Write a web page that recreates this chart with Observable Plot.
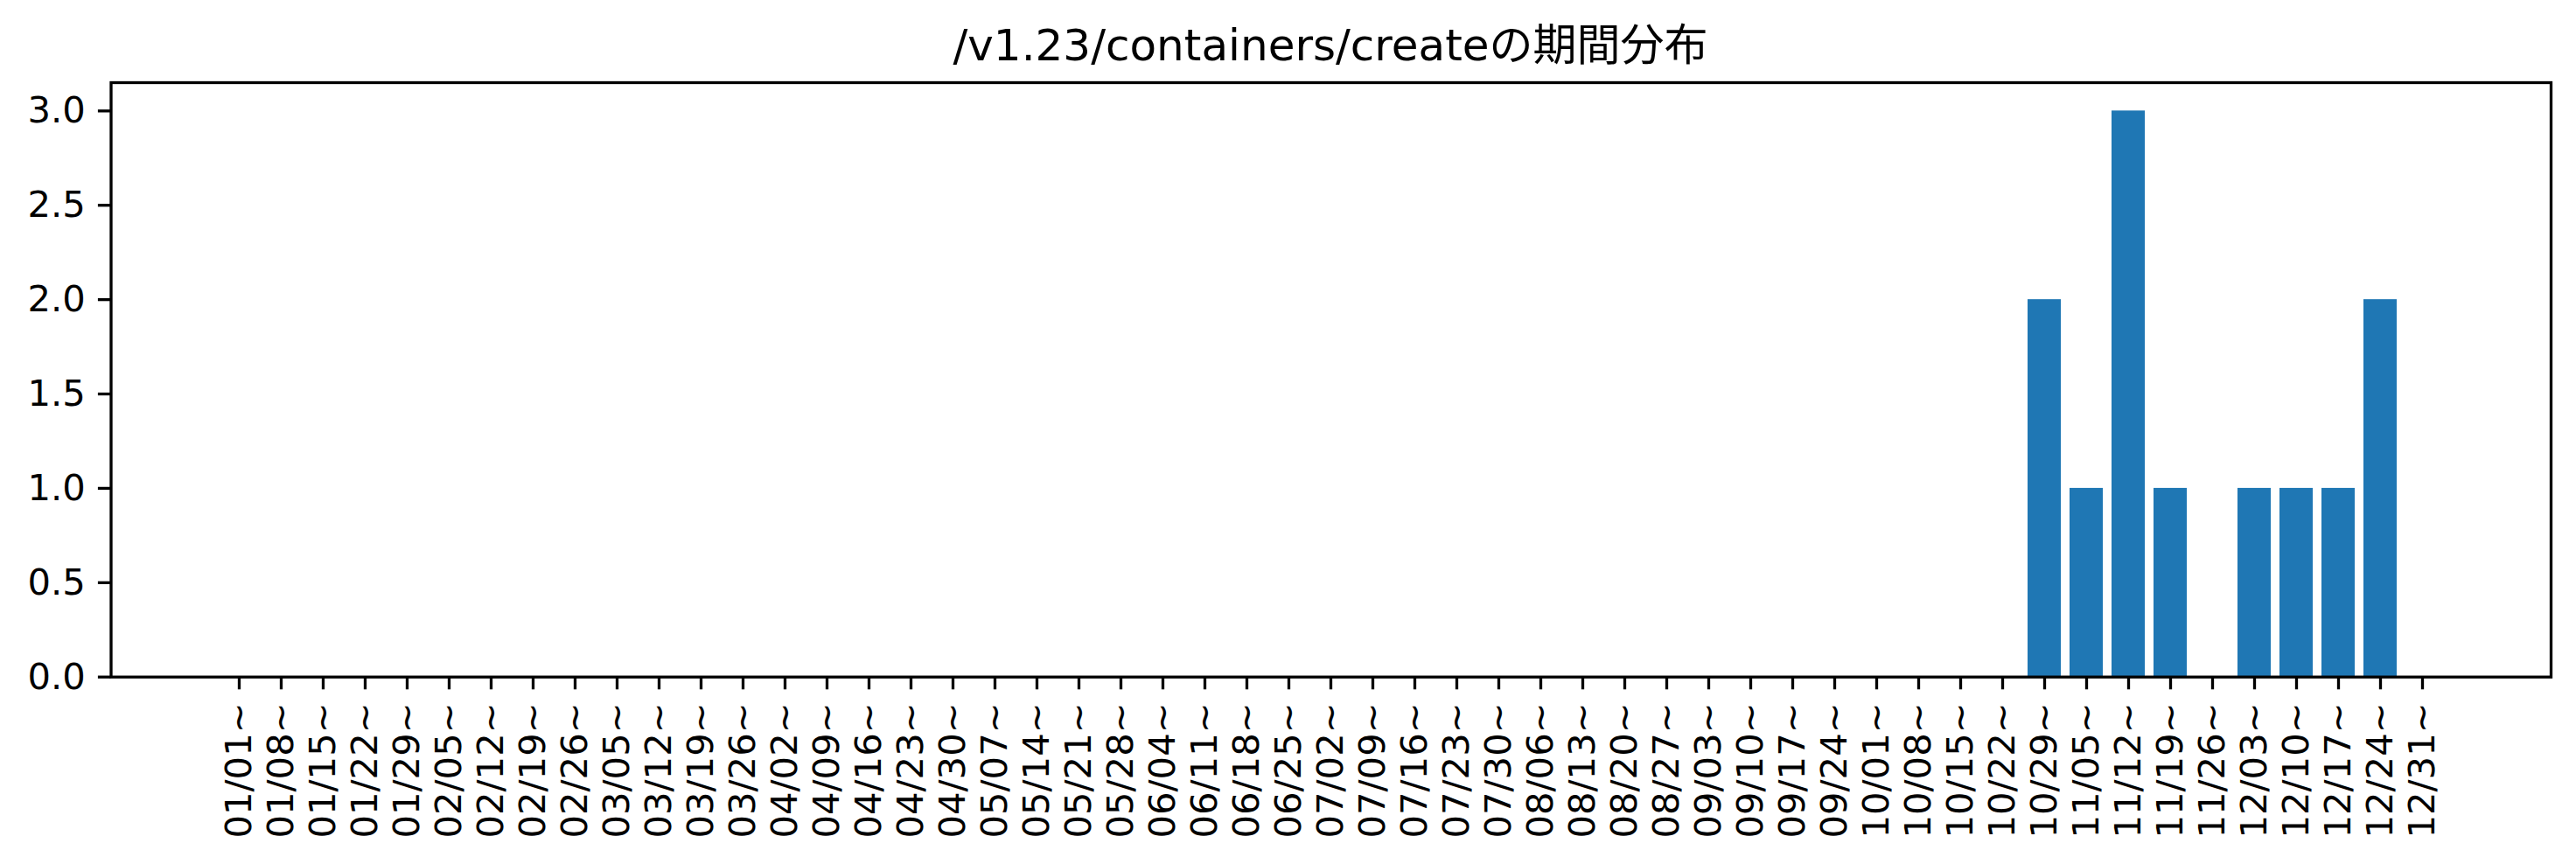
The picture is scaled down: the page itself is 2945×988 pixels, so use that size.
<!DOCTYPE html>
<html>
<head>
<meta charset="utf-8">
<script src="https://cdn.jsdelivr.net/npm/d3@7"></script>
<script src="https://cdn.jsdelivr.net/npm/@observablehq/plot@0.6"></script>
<style>
  html, body { margin: 0; padding: 0; background: #fff; }
  #title { display: block; }
</style>
</head>
<body>
<svg id="title" width="2945" height="88">
  <text x="1521" y="69" text-anchor="middle" fill="#000" font-family="DejaVu Sans" font-size="50px">/v1.23/containers/create<tspan font-family="Noto Sans CJK JP">の期間分布</tspan></text>
</svg>
<div id="chart"></div>
<script>
const weeks = [
  "01/01~","01/08~","01/15~","01/22~","01/29~",
  "02/05~","02/12~","02/19~","02/26~",
  "03/05~","03/12~","03/19~","03/26~",
  "04/02~","04/09~","04/16~","04/23~","04/30~",
  "05/07~","05/14~","05/21~","05/28~",
  "06/04~","06/11~","06/18~","06/25~",
  "07/02~","07/09~","07/16~","07/23~","07/30~",
  "08/06~","08/13~","08/20~","08/27~",
  "09/03~","09/10~","09/17~","09/24~",
  "10/01~","10/08~","10/15~","10/22~","10/29~",
  "11/05~","11/12~","11/19~","11/26~",
  "12/03~","12/10~","12/17~","12/24~","12/31~"
];
const counts = [
  0,0,0,0,0,
  0,0,0,0,
  0,0,0,0,
  0,0,0,0,0,
  0,0,0,0,
  0,0,0,0,
  0,0,0,0,0,
  0,0,0,0,
  0,0,0,0,
  0,0,0,0,2,
  1,3,1,0,
  1,1,1,2,0
];
const yTicks = [0, 0.5, 1.0, 1.5, 2.0, 2.5, 3.0];

const data = weeks.map((w, i) => ({week: w, count: counts[i]}));

const fs = 41.7;
const tick = 14.6;
const lw = 3.3;

const chart = Plot.plot({
  width: 2945,
  height: 900,
  marginLeft: 126.5,
  marginRight: 29,
  marginTop: 6,
  marginBottom: 214.3,
  style: {fontFamily: "DejaVu Sans", fontSize: fs + "px", color: "#000", background: "#fff"},
  x: {type: "band", domain: weeks, paddingInner: 0.2, paddingOuter: 2.64, align: 0.5},
  y: {domain: [0, 3.15]},
  marks: [
    Plot.barY(data, {x: "week", y: "count", fill: "#1f77b4"}),
    Plot.axisX({tickRotate: -90, tickSize: tick, tickPadding: tick, strokeWidth: lw, fontSize: fs, label: null}),
    Plot.axisY({ticks: yTicks, tickFormat: d3.format(".1f"), tickSize: tick, tickPadding: tick, strokeWidth: lw, fontSize: fs, label: null}),
    Plot.frame({stroke: "#000", strokeWidth: lw})
  ]
});
document.getElementById("chart").appendChild(chart);
</script>
</body>
</html>
